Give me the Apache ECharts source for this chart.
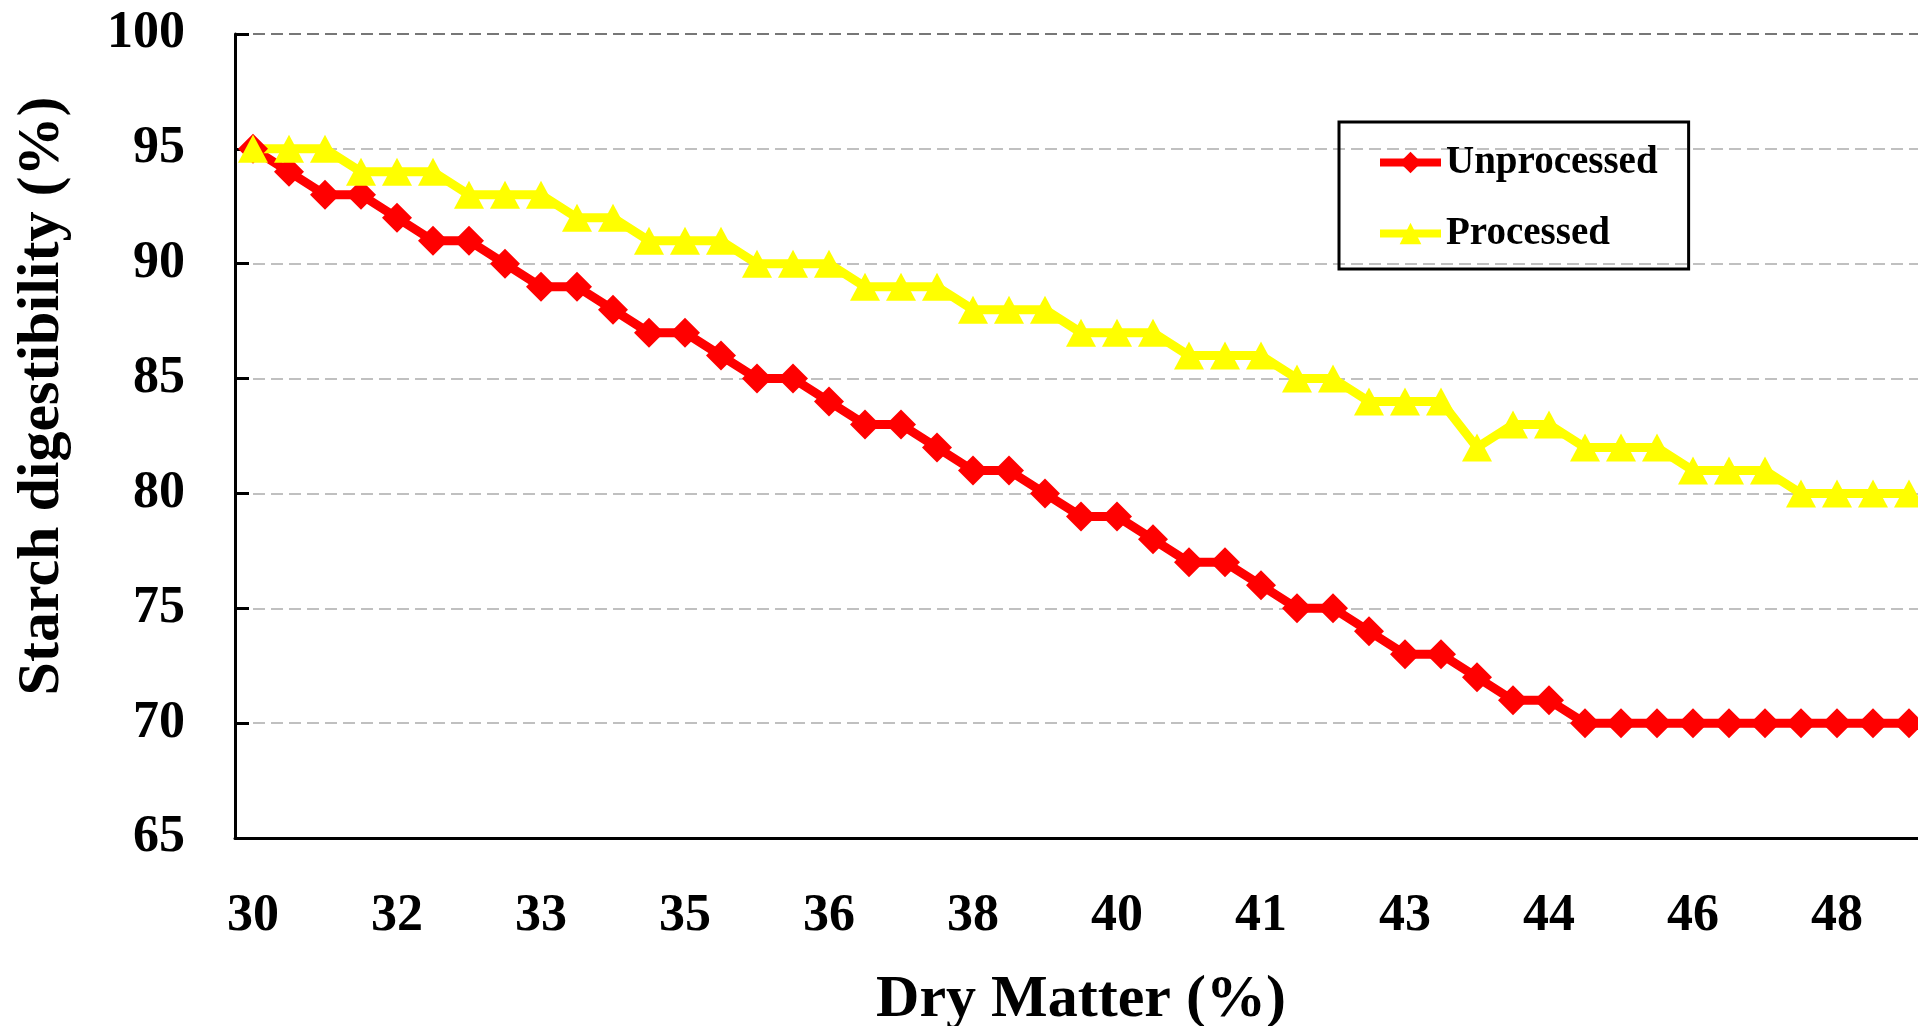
<!DOCTYPE html>
<html>
<head>
<meta charset="utf-8">
<title>Starch digestibility</title>
<script src="https://cdn.jsdelivr.net/npm/echarts@6/dist/echarts.min.js"></script>
<style>
  html, body { margin: 0; padding: 0; background: #fff; }
  #chart { width: 1918px; height: 1026px; }
</style>
</head>
<body>
<div id="chart"></div>
<script>
// dry matter (%) steps, labels shown every 4th, rounded
var dryMatter = ["30.0", "30.4", "30.8", "31.2", "31.6", "32.0", "32.4", "32.8", "33.2", "33.6",
  "34.0", "34.4", "34.8", "35.2", "35.6", "36.0", "36.4", "36.8", "37.2", "37.6",
  "38.0", "38.4", "38.8", "39.2", "39.6", "40.0", "40.4", "40.8", "41.2", "41.6",
  "42.0", "42.4", "42.8", "43.2", "43.6", "44.0", "44.4", "44.8", "45.2", "45.6",
  "46.0", "46.4", "46.8", "47.2", "47.6", "48.0", "48.4"];

var unprocessed = [95, 94, 93, 93, 92, 91, 91, 90, 89, 89,
  88, 87, 87, 86, 85, 85, 84, 83, 83, 82,
  81, 81, 80, 79, 79, 78, 77, 77, 76, 75,
  75, 74, 73, 73, 72, 71, 71, 70, 70, 70,
  70, 70, 70, 70, 70, 70, 70];

var processed = [95, 95, 95, 94, 94, 94, 93, 93, 93, 92,
  92, 91, 91, 91, 90, 90, 90, 89, 89, 89,
  88, 88, 88, 87, 87, 87, 86, 86, 86, 85,
  85, 84, 84, 84, 82, 83, 83, 82, 82, 82,
  81, 81, 81, 80, 80, 80, 80];

var font = '"Liberation Serif", "Times New Roman", serif';

var chart = echarts.init(document.getElementById("chart"));
var option = {
  animation: false,
  backgroundColor: "#fff",
  textStyle: { fontFamily: font },
  grid: { left: 235, top: 34, bottom: 188, right: -9, outerBoundsMode: "none", containLabel: false },
  legend: {
    orient: "vertical",
    left: 1339,
    top: 122,
    padding: [21, 31, 16, 37],
    borderColor: "#000",
    borderWidth: 3,
    itemWidth: 61,
    itemHeight: 27,
    itemGap: 32,
    lineStyle: { width: 8 },
    textStyle: { fontFamily: font, fontWeight: "bold", fontSize: 39, color: "#000" },
    data: ["Unprocessed", "Processed"]
  },
  xAxis: {
    type: "category",
    data: dryMatter,
    boundaryGap: true,
    name: "Dry Matter (%)",
    nameLocation: "middle",
    nameGap: 132,
    nameTextStyle: { fontFamily: font, fontWeight: "bold", fontSize: 60, color: "#000" },
    axisLine: { lineStyle: { color: "#000", width: 3 } },
    axisTick: { show: false },
    axisLabel: {
      interval: 3,
      margin: 53,
      fontFamily: font,
      fontWeight: "bold",
      fontSize: 52,
      color: "#000",
      formatter: function (v) { return String(Math.round(parseFloat(v))); }
    },
    splitLine: { show: false }
  },
  yAxis: {
    type: "value",
    min: 65,
    max: 100,
    interval: 5,
    name: "Starch digestibility (%)",
    nameLocation: "middle",
    nameGap: 163,
    nameTextStyle: {
      fontFamily: font, fontWeight: "bold", fontSize: 60, color: "#000",
      padding: [0, 0, 0, 80]
    },
    axisLine: { show: true, lineStyle: { color: "#000", width: 3 } },
    axisTick: { show: true, inside: true, length: 14, lineStyle: { color: "#000", width: 3 } },
    axisLabel: { margin: 50, fontFamily: font, fontWeight: "bold", fontSize: 52, color: "#000" },
    splitLine: {
      show: true,
      lineStyle: {
        color: ["#c0c0c0", "#c0c0c0", "#c0c0c0", "#c0c0c0", "#c0c0c0", "#c0c0c0", "#c0c0c0", "#777"],
        width: 2,
        type: [12, 6]
      }
    }
  },
  series: [
    {
      name: "Unprocessed",
      type: "line",
      data: unprocessed,
      symbol: "diamond",
      symbolSize: [30, 30],
      showAllSymbol: true,
      color: "#ff0000",
      lineStyle: { color: "#ff0000", width: 9 },
      itemStyle: { color: "#ff0000" }
    },
    {
      name: "Processed",
      type: "line",
      data: processed,
      symbol: "triangle",
      symbolSize: [30, 28],
      showAllSymbol: true,
      color: "#ffff00",
      lineStyle: { color: "#ffff00", width: 9 },
      itemStyle: { color: "#ffff00" }
    }
  ]
};
chart.setOption(option);
</script>
</body>
</html>
